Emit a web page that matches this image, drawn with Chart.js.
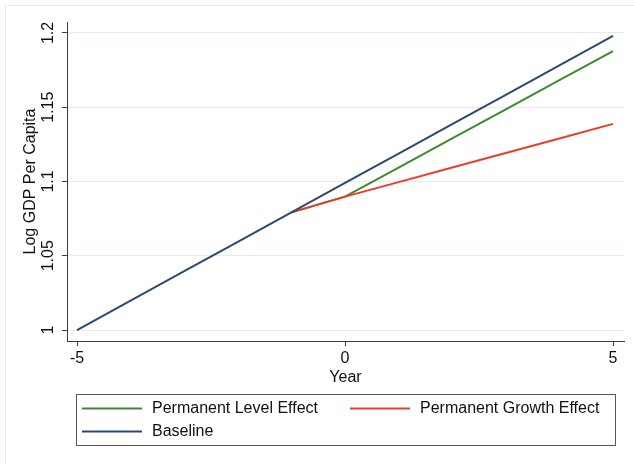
<!DOCTYPE html>
<html>
<head>
<meta charset="utf-8">
<script src="https://cdn.jsdelivr.net/npm/chart.js@4.4.1/dist/chart.umd.min.js"></script>
<style>
  body { margin: 0; background: #fff; }
  #wrap { width: 634px; height: 464px; }
</style>
</head>
<body>
<div id="wrap"><canvas id="myChart" width="634" height="464"></canvas></div>
<script>
// data
let years = [-5, -4, -3, -2, -1, 0, 1, 2, 3, 4, 5]
let baseline = [1.0000, 1.0198, 1.0396, 1.0594, 1.0792, 1.0990, 1.1188, 1.1386, 1.1584, 1.1782, 1.1980]
let level_effect = [null, null, null, null, 1.0792, 1.0898, 1.1094, 1.1290, 1.1486, 1.1682, 1.1878]
let growth_effect = [null, null, null, null, 1.0792, 1.0898, 1.0996, 1.1094, 1.1192, 1.1290, 1.1388]
let x_ticks = [-5, 0, 5]
let y_ticks = [1, 1.05, 1.1, 1.15, 1.2]
let y_tick_labels = ['1', '1.05', '1.1', '1.15', '1.2']

const FONT = "'Liberation Sans', Arial, Helvetica, sans-serif"
const AXIS_COLOR = '#3c3c3c'
const GRID_COLOR = '#e4ebee'

function toPoints(vals){
    return years.map((y, i) => ({x: y, y: vals[i]}))
}

// stata-ish extras: outer frame, rotated y labels, boxed legend
const stataBits = {
    id: 'stataBits',
    beforeDraw(chart){
        const ctx = chart.ctx
        ctx.save()
        ctx.strokeStyle = '#ebebeb'
        ctx.lineWidth = 1
        ctx.strokeRect(5.5, 5.5, 700, 600)
        ctx.restore()
    },
    afterDraw(chart){
        const ctx = chart.ctx
        const ys = chart.scales.y
        ctx.save()
        ctx.fillStyle = '#111'
        ctx.font = '16px ' + FONT
        ctx.textAlign = 'center'
        ctx.textBaseline = 'middle'
        ys.ticks.forEach((t, i) => {
            const py = ys.getPixelForTick(i)
            ctx.save()
            ctx.translate(49, py)
            ctx.rotate(-Math.PI / 2)
            ctx.fillText(y_tick_labels[y_ticks.indexOf(t.value)], 0, 0)
            ctx.restore()
        })

        // legend
        ctx.strokeStyle = '#555'
        ctx.lineWidth = 1
        ctx.strokeRect(76.5, 394.5, 539, 51)
        const spots = [[82, 408], [350, 408], [82, 431]]
        ctx.textAlign = 'left'
        chart.data.datasets.forEach((ds, i) => {
            const [lx, ly] = spots[i]
            ctx.strokeStyle = ds.borderColor
            ctx.lineWidth = 2
            ctx.beginPath()
            ctx.moveTo(lx, ly + 0.5)
            ctx.lineTo(lx + 60, ly + 0.5)
            ctx.stroke()
            ctx.fillStyle = '#111'
            ctx.fillText(ds.label, lx + 70, ly + 1)
        })
        ctx.restore()
    }
}

var ctx = document.getElementById('myChart').getContext('2d')
var chart = new Chart(ctx, {
    type: 'line',
    data: {
        datasets: [{
            label: 'Permanent Level Effect',
            borderColor: '#3b8c2d',
            data: toPoints(level_effect),
            order: 3
        }, {
            label: 'Permanent Growth Effect',
            borderColor: '#ee3a2a',
            data: toPoints(growth_effect),
            order: 2
        }, {
            label: 'Baseline',
            borderColor: '#2a4a6e',
            data: toPoints(baseline),
            order: 1
        }]
    },
    options: {
        responsive: false,
        animation: false,
        layout: { padding: { top: 22, right: 10, bottom: 0, left: 0 } },
        elements: {
            line: { borderWidth: 2, tension: 0 },
            point: { radius: 0, hoverRadius: 0 }
        },
        plugins: {
            legend: { display: false },
            tooltip: { enabled: false }
        },
        scales: {
            x: {
                type: 'linear',
                min: -5.187,
                max: 5.205,
                afterBuildTicks: s => { s.ticks = x_ticks.map(v => ({value: v})) },
                afterFit: s => { s.height = 123 },
                ticks: {
                    color: '#111',
                    font: { family: FONT, size: 16 },
                    padding: 3,
                    maxRotation: 0,
                    callback: v => String(v)
                },
                grid: {
                    drawOnChartArea: false,
                    drawTicks: true,
                    tickLength: 5,
                    tickColor: AXIS_COLOR
                },
                border: { display: true, color: AXIS_COLOR, width: 1 },
                title: {
                    display: true,
                    text: 'Year',
                    color: '#111',
                    font: { family: FONT, size: 16 },
                    padding: { top: 0, bottom: 77 }
                }
            },
            y: {
                min: 0.9926,
                max: 1.2074,
                afterBuildTicks: s => { s.ticks = y_ticks.map(v => ({value: v})) },
                afterFit: s => { s.width = 67 },
                ticks: {
                    color: 'rgba(0,0,0,0)',
                    font: { family: FONT, size: 16 },
                    callback: v => String(v)
                },
                grid: {
                    color: GRID_COLOR,
                    lineWidth: 1,
                    drawTicks: true,
                    tickLength: 5,
                    tickColor: AXIS_COLOR
                },
                border: { display: true, color: AXIS_COLOR, width: 1 },
                title: {
                    display: true,
                    text: 'Log GDP Per Capita',
                    color: '#111',
                    font: { family: FONT, size: 16 },
                    padding: { top: 21, bottom: 0 }
                }
            }
        }
    },
    plugins: [stataBits]
})
</script>
</body>
</html>
